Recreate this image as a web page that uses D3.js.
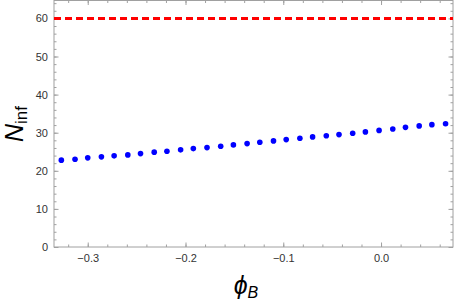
<!DOCTYPE html>
<html>
<head>
<meta charset="utf-8">
<script src="https://cdn.jsdelivr.net/npm/d3@7"></script>
<style>
    body { margin: 0; background: #fff; }
    svg { display: block; font-family: "Liberation Sans", Arial, sans-serif; }
</style>
</head>
<body>
<svg id="svg" width="458" height="305"></svg>
<script>
// data
const phiB = [-0.327, -0.313, -0.300, -0.286, -0.273, -0.259, -0.246, -0.232, -0.219, -0.205,
    -0.192, -0.178, -0.164, -0.151, -0.137, -0.124, -0.110, -0.097, -0.083, -0.070,
    -0.056, -0.043, -0.029, -0.016, -0.002, 0.012, 0.025, 0.039, 0.052, 0.066];
const nInf = [22.8, 23.05, 23.4, 23.66, 23.92, 24.18, 24.52, 24.89, 25.15, 25.5,
    25.83, 26.09, 26.46, 26.8, 27.14, 27.5, 27.85, 28.19, 28.56, 28.9,
    29.2, 29.5, 29.87, 30.21, 30.6, 30.99, 31.4, 31.78, 32.12, 32.35];
const refLine = [60];
const xTicks = [-0.3, -0.2, -0.1, 0.0];
const yTicks = [0, 10, 20, 30, 40, 50, 60];

const width = 458,
    height = 305;
const margin = { left: 54, right: 5, top: 0.5, bottom: 58 };

const svg = d3.select('#svg');

const x = d3.scaleLinear()
    .domain([-0.3345, 0.0736])
    .range([margin.left, width - margin.right]);
const y = d3.scaleLinear()
    .domain([0, 64.7])
    .range([height - margin.bottom, margin.top]);

const frameColor = '#a0a0a0';

// minor ticks every 0.02 / 2 units
const xMinor = d3.range(-0.34, 0.08, 0.02).filter(v => v > x.domain()[0] && v < x.domain()[1]);
const yMinor = d3.range(0, 65, 2);

function tickAxis(axisFn, scale, vals, len) {
    return axisFn(scale).tickValues(vals).tickSizeInner(-len).tickSizeOuter(0).tickFormat('');
}

const x0 = margin.left, x1 = width - margin.right;
const y0 = height - margin.bottom, y1 = margin.top;

// bottom
svg.append('g').attr('transform', `translate(0,${y0})`).call(tickAxis(d3.axisBottom, x, xMinor, 2.5));
svg.append('g').attr('class', 'major').attr('transform', `translate(0,${y0})`)
    .call(d3.axisBottom(x).tickValues(xTicks).tickSizeInner(-4.5).tickSizeOuter(0)
        .tickFormat(d => d === 0 ? '0.0' : d3.format('.1f')(d).replace('-', '\u2212')));
// top
svg.append('g').attr('transform', `translate(0,${y1})`).call(tickAxis(d3.axisTop, x, xMinor, 2.5));
svg.append('g').attr('transform', `translate(0,${y1})`).call(tickAxis(d3.axisTop, x, xTicks, 4.5));
// left
svg.append('g').attr('transform', `translate(${x0},0)`).call(tickAxis(d3.axisLeft, y, yMinor, 2.5));
svg.append('g').attr('class', 'major').attr('transform', `translate(${x0},0)`)
    .call(d3.axisLeft(y).tickValues(yTicks).tickSizeInner(-4.5).tickSizeOuter(0));
// right
svg.append('g').attr('transform', `translate(${x1},0)`).call(tickAxis(d3.axisRight, y, yMinor, 2.5));
svg.append('g').attr('transform', `translate(${x1},0)`).call(tickAxis(d3.axisRight, y, yTicks, 4.5));

svg.selectAll('.domain').remove();
svg.selectAll('.tick line').attr('stroke', frameColor);
svg.selectAll('.major .tick text')
    .attr('fill', '#333')
    .style('font-size', '11px');
svg.selectAll('.major .tick text').filter(function () { return this.getAttribute('dy') === '0.71em'; })
    .attr('y', 7);
svg.selectAll('.major .tick text').filter(function () { return this.getAttribute('dy') === '0.32em'; })
    .attr('x', -6);

// frame
svg.append('rect')
    .attr('x', x0).attr('y', y1)
    .attr('width', x1 - x0).attr('height', y0 - y1)
    .attr('fill', 'none')
    .attr('stroke', frameColor)
    .attr('stroke-width', 1);

// red dashed line
svg.append('g').selectAll('line')
    .data(refLine)
    .join('line')
    .attr('x1', x0).attr('x2', x1)
    .attr('y1', d => y(d)).attr('y2', d => y(d))
    .attr('stroke', '#ff0000')
    .attr('stroke-width', 3)
    .attr('stroke-dasharray', '7,4');

// points
svg.append('g').selectAll('circle')
    .data(phiB.map((v, i) => ({ x: v, y: nInf[i] })))
    .join('circle')
    .attr('cx', d => x(d.x))
    .attr('cy', d => y(d.y))
    .attr('r', 2.8)
    .attr('fill', '#0000ff');

// axis labels
const xl = svg.append('text')
    .attr('x', 246).attr('y', 294)
    .attr('text-anchor', 'middle')
    .attr('fill', '#000')
    .style('font-style', 'italic');
xl.append('tspan').style('font-size', '25px').text('\u03d5');
xl.append('tspan').attr('dy', 4).style('font-size', '16px').text('B');

const yl = svg.append('text')
    .attr('transform', 'translate(23,124) rotate(-90)')
    .attr('text-anchor', 'middle')
    .attr('fill', '#000');
yl.append('tspan').style('font-size', '25px').style('font-style', 'italic').text('N');
yl.append('tspan').attr('dy', 4).style('font-size', '17px').text('inf');
</script>
</body>
</html>
